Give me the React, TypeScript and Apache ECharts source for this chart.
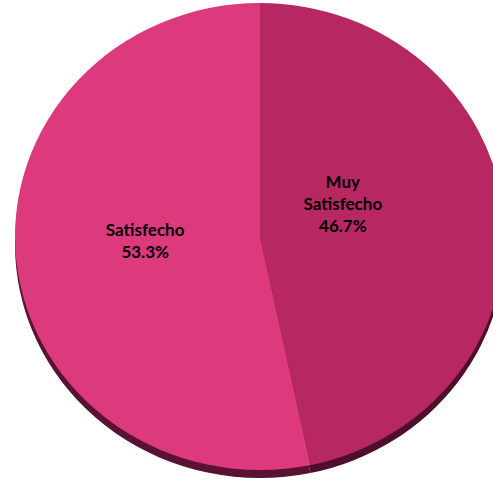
import React, { useEffect, useRef } from "react";
import * as echarts from "echarts";

const categories = ["Muy\nSatisfecho", "Satisfecho"];
const values = [46.7, 53.3];
const colors = ["#B72862", "#DC3A7C"];
const depthColors = ["#4E0E2C", "#5A1234"];
const labelOffsets = [[-39, -21], [7, -8]];

const CX = 260;
const CY = 236.5;
const RX = 245;
const RY = 233.5;
const DEPTH = 8;

function sliceAngles(i: number) {
  const total = values.reduce((a, b) => a + b, 0);
  let acc = 0;
  for (let k = 0; k < i; k++) acc += values[k];
  const start = -Math.PI / 2 + (acc / total) * Math.PI * 2;
  const end = start + (values[i] / total) * Math.PI * 2;
  return [start, end];
}

export default function App() {
  const ref = useRef<HTMLDivElement>(null);
  useEffect(() => {
    if (!ref.current) return;
    const chart = echarts.init(ref.current, null, { renderer: "svg" });
    const makeRender = (depth: boolean) => (params: any, api: any) => {
      const i = params.dataIndex;
      const [s, e] = sliceAngles(i);
      const children: any[] = [
        {
          type: "sector",
          shape: { cx: 0, cy: 0, r0: 0, r: RX, startAngle: s, endAngle: e, clockwise: true },
          style: { fill: depth ? depthColors[i] : colors[i] },
        },
      ];
      const group: any = {
        type: "group",
        x: CX,
        y: CY + (depth ? DEPTH : 0),
        scaleY: RY / RX,
        children,
      };
      if (depth) return group;
      const mid = (s + e) / 2;
      const lx = CX + Math.cos(mid) * RX * 0.5 + labelOffsets[i][0];
      const ly = CY + Math.sin(mid) * RY * 0.5 + labelOffsets[i][1];
      return {
        type: "group",
        children: [
          group,
          {
            type: "text",
            x: lx,
            y: ly,
            style: {
              text: `${categories[i]}\n${api.value(0).toFixed(1)}%`,
              fill: "#000",
              font: "bold 17px Lato, 'Open Sans', sans-serif",
              lineHeight: 22,
              align: "center",
              verticalAlign: "middle",
            },
          },
        ],
      };
    };
    chart.setOption({
      animation: false,
      series: [
        {
          type: "custom",
          coordinateSystem: "none",
          silent: true,
          z: 1,
          renderItem: makeRender(true),
          data: values,
        },
        {
          type: "custom",
          coordinateSystem: "none",
          z: 2,
          renderItem: makeRender(false),
          data: values,
        },
      ],
    });
    return () => chart.dispose();
  }, []);
  return <div ref={ref} style={{ width: 493, height: 482, position: "absolute", left: 0, top: 0 }} />;
}
